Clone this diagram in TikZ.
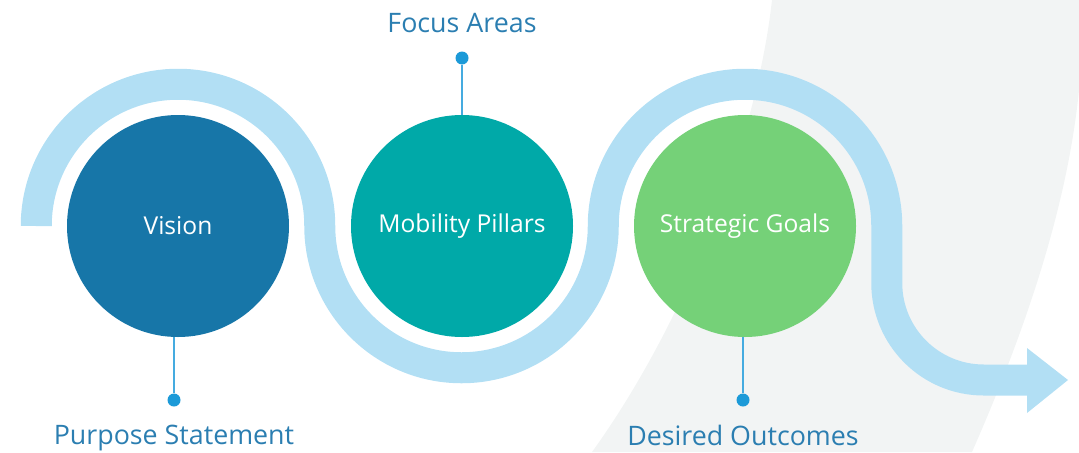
\documentclass[tikz,border=0pt]{standalone}
\usepackage{fontspec}
\setmainfont{Open Sans}
\definecolor{bandblue}{HTML}{B2DFF4}
\definecolor{visionblue}{HTML}{1776A8}
\definecolor{teal}{HTML}{00A9A8}
\definecolor{leaf}{HTML}{75D178}
\definecolor{labelblue}{HTML}{2B7EB1}
\definecolor{dotblue}{HTML}{1C9AD8}
\definecolor{stickblue}{HTML}{45ABE0}
\definecolor{bggray}{HTML}{F2F4F4}
\tikzset{
  stage/.style={circle, minimum size=111pt, inner sep=0pt, text=white,
    font=\fontsize{12.3pt}{14pt}\selectfont},
  pin/.style={circle, fill=dotblue, minimum size=6.5pt, inner sep=0pt},
  stick/.style={draw=stickblue, line width=0.8pt},
  caption/.style={text=labelblue, anchor=base, inner sep=0pt,
    font=\fontsize{13.4pt}{16pt}\selectfont},
  band/.style={draw=bandblue, line width=15.5pt, line cap=butt},
}
\begin{document}
\begin{tikzpicture}[x=0.5pt, y=0.5pt]
\useasboundingbox (0,0) rectangle (1079,452);
% background grey sweep
\fill[bggray] (772,452) .. controls (755,302) and (680,122) .. (592,0)
  -- (972,0) .. controls (1030,132) and (1068,252) .. (1079,362)
  -- (1079,452) -- cycle;
% winding band
\draw[band] (36.25,226) arc[start angle=180, end angle=0, radius=141.75]
  arc[start angle=180, end angle=360, radius=141.75]
  arc[start angle=180, end angle=0, radius=141.75]
  -- (886.75,169) arc[start angle=180, end angle=270, radius=97]
  -- (1028,72);
\fill[bandblue] (1027,104) -- (1068,72) -- (1027,39) -- cycle;
% stages
\node[stage, fill=visionblue] (vision) at (178,226) {Vision};
\node[stage, fill=teal] (mobility) at (462,226) {Mobility Pillars};
\node[stage, fill=leaf] (goals) at (745,226) {Strategic Goals};
% pins
\node[pin] (pinA) at (174,52) {};
\node[pin] (pinB) at (462,394) {};
\node[pin] (pinC) at (743,52) {};
\draw[stick] (vision.south -| pinA) -- (pinA);
\draw[stick] (mobility.north) -- (pinB);
\draw[stick] (goals.south -| pinC) -- (pinC);
% captions
\node[caption] (capA) at (174,8) {Purpose Statement};
\node[caption] (capB) at (462,420) {Focus Areas};
\node[caption] (capC) at (743,7) {Desired Outcomes};
\end{tikzpicture}
\end{document}
